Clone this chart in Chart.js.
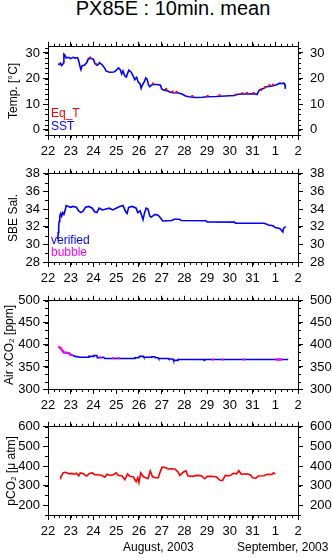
<!DOCTYPE html>
<html>
<head>
<meta charset="utf-8">
<script src="https://cdn.jsdelivr.net/npm/chart.js@4.4.1/dist/chart.umd.min.js"></script>
<style>
body { margin: 0; background: #fff; width: 332px; height: 558px; position: relative; overflow: hidden;
       font-family: "Liberation Sans", Arial, sans-serif; }
canvas { position: absolute; left: 0; }
.txt { position: absolute; white-space: nowrap; font-size: 12px; line-height: 12px; }
</style>
</head>
<body>
<div class="txt" style="left:0;width:346px;text-align:center;top:-2px;font-size:20px;line-height:20px;">PX85E : 10min. mean</div>

<canvas id="cTemp" width="332" height="131" style="top:32px"></canvas>
<canvas id="cSal" width="332" height="131" style="top:159px"></canvas>
<canvas id="cAir" width="332" height="131" style="top:286px"></canvas>
<canvas id="cPco2" width="332" height="131" style="top:412px"></canvas>

<div class="txt" style="left:51px;top:107px;color:#ff0000">Eq_T</div>
<div class="txt" style="left:51px;top:120px;color:#0000ff">SST</div>
<div class="txt" style="left:51px;top:234px;color:#0000ff">verified</div>
<div class="txt" style="left:51px;top:246px;color:#ff00ff">bubble</div>
<div class="txt" style="left:123px;top:541px">August, 2003</div>
<div class="txt" style="left:237px;top:541px">September, 2003</div>

<script>
// x values are days of August 2003 (32 = 1 Sep, 33 = 2 Sep)
const sstDay = [22.45, 22.50, 22.55, 22.60, 22.65, 22.68, 22.70, 22.75, 22.80, 22.90, 23.00, 23.10, 23.20, 23.30, 23.35,
  23.40, 23.45, 23.50, 23.60, 23.70, 23.78, 23.90, 24.00, 24.07, 24.15, 24.22, 24.26, 24.32, 24.40, 24.50, 24.55,
  24.70, 24.90, 25.00, 25.10, 25.18, 25.24, 25.30, 25.38, 25.45, 25.50, 25.56, 25.65, 25.75, 25.82, 25.90, 25.98,
  26.05, 26.10, 26.17, 26.25, 26.30, 26.36, 26.42, 26.48, 26.55, 26.65, 26.80, 26.95, 27.00, 27.10, 27.25, 27.35,
  27.50, 27.75, 27.90, 28.05, 28.20, 28.50, 28.80, 29.00, 29.40, 29.80, 30.20, 30.35, 30.70, 31.10, 31.20, 31.25,
  31.30, 31.45, 31.60, 31.80, 32.00, 32.10, 32.20, 32.30, 32.38, 32.43, 32.44];
const sstVal = [25.8, 25.5, 26.0, 25.1, 25.6, 26.2, 29.5, 29.0, 28.0, 28.3, 27.8, 28.3, 28.0, 28.2, 27.0,
  25.0, 23.5, 25.0, 25.2, 26.2, 27.8, 27.9, 27.5, 25.8, 25.2, 25.5, 26.2, 25.8, 25.2, 24.0, 23.0,
  22.5, 22.6, 23.2, 24.2, 23.5, 21.8, 23.0, 21.0, 20.6, 22.0, 23.3, 22.6, 21.0, 19.6, 20.5, 18.5,
  18.0, 16.2, 17.8, 19.0, 20.3, 19.8, 17.6, 16.8, 17.5, 17.7, 17.7, 17.4, 16.0, 15.5, 15.3, 14.8,
  14.5, 14.4, 14.0, 13.2, 12.9, 12.6, 12.7, 12.9, 13.0, 13.2, 13.4, 13.9, 14.0, 14.1, 13.8, 14.8,
  15.5, 16.0, 16.8, 17.0, 17.4, 17.8, 18.2, 18.0, 18.3, 17.6, 16.0];
// Eq_T mostly hides under SST; only the specks that show are listed
const eqtDay = [23.85, 24.12, 26.62, 27.20, 27.48, 27.66, 28.35, 29.02, 29.55, 30.25, 30.55, 30.75, 31.05,
  31.38, 31.55, 31.75, 31.90];
const eqtVal = [28.2, 25.7, 18.1, 15.9, 14.9, 14.8, 13.2, 13.2, 13.5, 13.7, 14.3, 14.4, 14.4,
  15.7, 16.6, 17.4, 17.6];

const salDay = [22.43, 22.45, 22.47, 22.49, 22.52, 22.56, 22.60, 22.65, 22.70, 22.75, 22.80, 22.90, 23.00, 23.10,
  23.25, 23.35, 23.45, 23.55, 23.65, 23.80, 23.95, 24.05, 24.15, 24.25, 24.40, 24.55, 24.70, 24.85, 25.00, 25.15,
  25.30, 25.42, 25.48, 25.55, 25.70, 25.88, 25.95, 26.05, 26.12, 26.18, 26.25, 26.32, 26.40, 26.48, 26.55, 26.70,
  26.85, 26.98, 27.05, 27.45, 27.55, 27.80, 27.85, 28.95, 29.00, 30.20, 30.25, 31.50, 31.60, 31.70, 31.90, 32.00,
  32.20, 32.33, 32.36, 32.46];
const salVal = [30.6, 31.3, 32.0, 32.6, 33.2, 33.5, 33.2, 33.6, 33.4, 33.8, 34.4, 34.3, 34.2, 34.3,
  34.2, 33.8, 33.6, 33.8, 34.2, 34.3, 34.1, 33.7, 33.6, 34.1, 33.9, 34.0, 34.1, 33.9, 34.1, 34.3,
  34.4, 33.7, 33.5, 34.2, 34.3, 34.1, 33.6, 33.8, 33.3, 32.8, 33.6, 34.1, 34.0, 33.2, 33.1, 33.4,
  33.3, 32.9, 32.65, 32.7, 32.85, 32.85, 32.7, 32.68, 32.55, 32.52, 32.4, 32.4, 32.3, 32.2, 32.1, 31.9,
  31.8, 31.4, 31.8, 32.0];

const airDay = [22.48, 22.55, 22.62, 22.68, 22.80, 22.95, 23.00, 23.10, 23.20, 23.40, 23.78, 23.80, 24.00, 24.02,
  24.15, 24.17, 24.30, 24.45, 24.50, 25.80, 25.82, 26.00, 26.02, 26.20, 26.22, 26.55, 26.57, 26.70, 26.72, 26.85,
  26.87, 27.30, 27.32, 27.50, 27.52, 27.70, 27.72, 28.85, 28.87, 28.89, 32.57];
const airVal = [396, 393, 388, 383, 382, 381, 377, 376, 374, 372, 372, 374, 374, 376,
  376, 371, 371, 372, 369, 369, 371, 371, 374, 374, 372, 372, 373, 373, 371, 371,
  369, 369, 368, 368, 365, 365, 367, 367, 365, 367, 367];
const bubbleDay = [22.50, 22.55, 22.58, 22.62, 22.65, 22.72, 22.80, 22.85, 22.95, 23.05, 24.30, 24.87, 25.09,
  29.25, 29.68, 30.62, 32.06, 32.10, 32.14, 32.18, 32.22, 32.26];
const bubbleVal = [395, 393, 391, 388, 386, 383, 382, 382, 379, 377, 372, 370, 370,
  367, 367, 367, 367, 367, 367, 367, 367, 367];

const pco2Day = [22.53, 22.56, 22.60, 22.66, 22.75, 22.85, 22.95, 23.05, 23.15, 23.25, 23.35, 23.42, 23.55, 23.65,
  23.72, 23.82, 23.95, 24.05, 24.20, 24.35, 24.50, 24.60, 24.75, 24.90, 25.00, 25.10, 25.25, 25.38, 25.50, 25.60,
  25.75, 25.88, 25.95, 26.00, 26.08, 26.20, 26.30, 26.40, 26.50, 26.60, 26.75, 26.85, 26.92, 27.02, 27.15, 27.30,
  27.45, 27.60, 27.73, 27.80, 27.95, 28.07, 28.15, 28.35, 28.55, 28.75, 28.90, 29.00, 29.20, 29.40, 29.55, 29.68,
  29.80, 30.00, 30.15, 30.30, 30.40, 30.50, 30.75, 30.90, 31.00, 31.15, 31.25, 31.50, 31.65, 31.85, 31.92, 32.00];
const pco2Val = [336, 345, 350, 365, 368, 364, 360, 362, 358, 363, 350, 365, 362, 352,
  350, 362, 365, 356, 355, 353, 343, 358, 352, 357, 365, 352, 350, 330, 360, 348,
  345, 320, 340, 315, 365, 345, 340, 335, 375, 345, 340, 340, 365, 394, 392, 385,
  386, 383, 368, 352, 368, 376, 350, 347, 352, 350, 335, 347, 347, 345, 328, 325,
  352, 350, 363, 360, 376, 358, 360, 355, 340, 338, 349, 350, 358, 357, 365, 358];

const BLUE = "#0000ff", RED = "#ff0000", MAGENTA = "#ff00ff";

Chart.defaults.font.family = "'Liberation Sans', Arial, sans-serif";
Chart.defaults.color = "#000";

function pts(xs, ys) {
  return xs.map((x, i) => ({ x: x, y: ys[i] }));
}

// short outward ticks between the labelled ones
const minorTicks = {
  id: "minorTicks",
  afterDraw(chart, args, opts) {
    const { ctx, chartArea: a, scales } = chart;
    ctx.save();
    ctx.strokeStyle = "#000";
    ctx.lineWidth = 1;
    ctx.beginPath();
    const xs = scales.x;
    for (let v = xs.min; v <= xs.max + 1e-6; v += 0.25) {
      const px = Math.round(xs.getPixelForValue(v)) + 0.5;
      ctx.moveTo(px, a.top); ctx.lineTo(px, a.top - 3);
      ctx.moveTo(px, a.bottom); ctx.lineTo(px, a.bottom + 3);
    }
    const ys = scales.y;
    for (let v = opts.start; v <= ys.max + 1e-6; v += opts.step) {
      const py = Math.round(ys.getPixelForValue(v)) + 0.5;
      ctx.moveTo(a.left, py); ctx.lineTo(a.left - 3, py);
      ctx.moveTo(a.right, py); ctx.lineTo(a.right + 3, py);
    }
    ctx.stroke();
    ctx.restore();
  }
};

const tickFont = { size: 13 };
const axisGrid = { drawOnChartArea: false, drawTicks: true, tickLength: 5, color: "#000", lineWidth: 1 };
const axisBorder = { display: true, color: "#000", width: 1 };

function dayLabel(v) {
  return v > 31 ? v - 31 : v;
}

function panelOptions(yMin, yMax, yStep, minorStart, minorStep, title, titlePad) {
  return {
    responsive: false,
    animation: false,
    events: [],
    layout: { padding: 0 },
    plugins: {
      legend: { display: false },
      tooltip: { enabled: false },
      minorTicks: { start: minorStart, step: minorStep }
    },
    scales: {
      x: {
        type: "linear", position: "bottom", min: 22, max: 33,
        grid: axisGrid, border: axisBorder,
        ticks: { stepSize: 1, autoSkip: false, maxRotation: 0, padding: 4, font: tickFont, callback: dayLabel },
        afterFit: s => { s.height = 28; }
      },
      x2: {
        type: "linear", position: "top", min: 22, max: 33,
        grid: axisGrid, border: axisBorder,
        ticks: { stepSize: 1, display: false },
        afterFit: s => { s.height = 10; }
      },
      y: {
        type: "linear", position: "left", min: yMin, max: yMax,
        grid: axisGrid, border: axisBorder,
        ticks: { stepSize: yStep, autoSkip: false, includeBounds: false, padding: 3, font: tickFont },
        title: { display: true, text: title, font: { size: 12 }, padding: { top: titlePad, bottom: 0 } },
        afterFit: s => { s.width = 48; }
      },
      y2: {
        type: "linear", position: "right", min: yMin, max: yMax,
        grid: axisGrid, border: axisBorder,
        ticks: { stepSize: yStep, autoSkip: false, includeBounds: false, padding: 7, font: tickFont },
        afterFit: s => { s.width = 34; }
      }
    }
  };
}

function lineSet(label, xs, ys, color, order) {
  return {
    label: label, data: pts(xs, ys), showLine: true, borderColor: color, backgroundColor: color,
    borderWidth: 1.6, pointRadius: 0, order: order
  };
}

function dotSet(label, xs, ys, color, order) {
  return {
    label: label, data: pts(xs, ys), showLine: false, pointStyle: "rect",
    pointRadius: 1.5, borderWidth: 0, backgroundColor: color, order: order
  };
}

new Chart(document.getElementById("cTemp"), {
  type: "scatter",
  data: { datasets: [
    dotSet("Eq_T", eqtDay, eqtVal, RED, 0),
    lineSet("SST", sstDay, sstVal, BLUE, 1)
  ] },
  options: panelOptions(-2, 32.4, 10, -2, 2, "Temp. [°C]", 6),
  plugins: [minorTicks]
});

new Chart(document.getElementById("cSal"), {
  type: "scatter",
  data: { datasets: [
    lineSet("verified", salDay, salVal, BLUE, 0)
  ] },
  options: panelOptions(28, 38, 2, 28, 1, "SBE Sal.", 6),
  plugins: [minorTicks]
});

new Chart(document.getElementById("cAir"), {
  type: "scatter",
  data: { datasets: [
    dotSet("bubble", bubbleDay, bubbleVal, MAGENTA, 0),
    lineSet("verified", airDay, airVal, BLUE, 1)
  ] },
  options: panelOptions(300, 500, 50, 300, 50 / 3, "Air xCO₂ [ppm]", 2),
  plugins: [minorTicks]
});

new Chart(document.getElementById("cPco2"), {
  type: "scatter",
  data: { datasets: [
    lineSet("pCO2", pco2Day, pco2Val, RED, 0)
  ] },
  options: panelOptions(150, 600, 100, 150, 50, "pCO₂ [μ atm]", 4),
  plugins: [minorTicks]
});
</script>
</body>
</html>
